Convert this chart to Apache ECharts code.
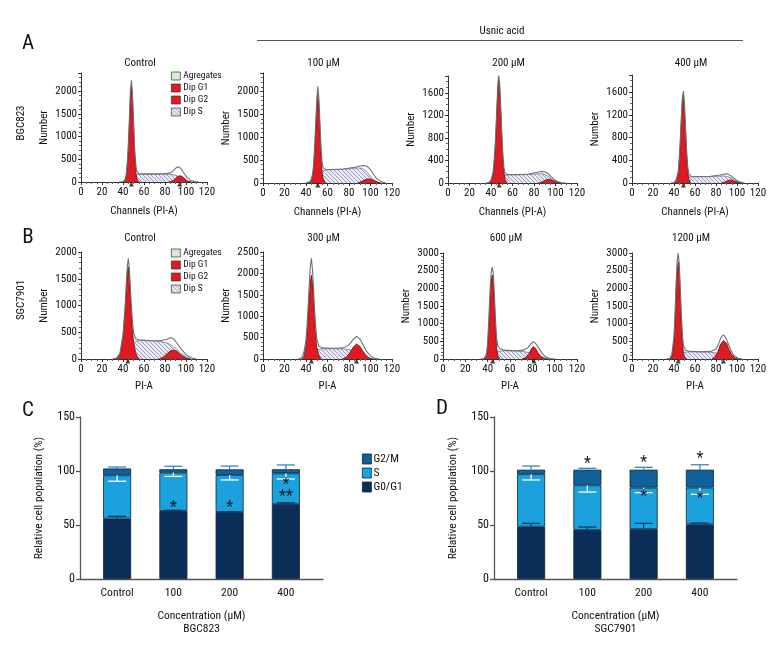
<!DOCTYPE html>
<html><head><meta charset="utf-8">
<script src="https://cdn.jsdelivr.net/npm/echarts/dist/echarts.min.js"></script>
<style>html,body{margin:0;padding:0;background:#fff}#c{width:780px;height:660px}</style>
</head><body><div id="c"></div>
<script>
// ---------- Histogram data: [channel, count] ----------
// Row A: BGC823
const a1G1 = [[40,0],[42,30],[43,120],[44,330],[45,700],[46,1250],[47,1850],[48,2150],[49,1850],[50,1250],[51,650],[52,280],[53,100],[54,30],[56,0]];
const a1S  = [[42,0],[45,40],[48,100],[51,150],[54,168],[60,170],[70,170],[80,168],[86,165],[90,150],[94,110],[98,55],[102,15],[106,0]];
const a1G2 = [[84,0],[87,20],[89,55],[91,100],[93,132],[95,135],[97,110],[99,70],[101,30],[103,8],[105,0]];
const a1Fit = [[36,0],[40,10],[42,60],[43,150],[44,400],[45,780],[46,1350],[47,1980],[48,2240],[49,1960],[50,1380],[51,780],[52,420],[53,250],[55,185],[60,178],[70,178],[80,180],[85,200],[88,250],[91,320],[93,335],[95,300],[97,230],[99,160],[101,100],[104,40],[108,8],[112,0]];
const a1Peaks = [48,94];

const a2G1 = [[42,0],[45,40],[46,120],[47,300],[48,650],[49,1150],[50,1650],[51,1930],[52,1700],[53,1150],[54,600],[55,250],[56,80],[58,0]];
const a2S  = [[44,0],[48,60],[52,180],[56,270],[60,290],[70,295],[80,310],[88,330],[92,320],[96,260],[100,150],[104,50],[108,0]];
const a2G2 = [[88,0],[91,25],[94,60],[97,85],[99,90],[101,80],[104,45],[107,15],[110,0]];
const a2Fit = [[40,0],[44,30],[46,180],[47,380],[48,750],[49,1300],[50,1800],[51,2110],[52,1850],[53,1300],[54,780],[55,450],[56,330],[58,300],[65,295],[75,305],[85,340],[90,370],[94,380],[97,360],[100,290],[103,180],[106,90],[110,30],[114,0]];
const a2Peaks = [51];

const a3G1 = [[38,0],[40,30],[42,150],[43,350],[44,650],[45,1050],[46,1500],[47,1830],[48,1700],[49,1300],[50,850],[51,450],[52,200],[53,70],[55,0]];
const a3S  = [[40,0],[44,40],[48,100],[52,135],[56,142],[65,145],[75,150],[85,165],[89,160],[93,120],[97,60],[101,20],[105,0]];
const a3G2 = [[84,0],[87,15],[90,45],[92,62],[94,66],[96,55],[99,30],[102,10],[105,0]];
const a3Fit = [[35,0],[38,10],[40,50],[42,200],[43,420],[44,720],[45,1130],[46,1600],[47,1920],[48,1790],[49,1380],[50,920],[51,520],[52,280],[53,180],[55,150],[65,150],[75,160],[83,190],[87,205],[90,200],[93,170],[96,110],[99,60],[102,25],[106,5],[110,0]];
const a3Peaks = [47.5];

const a4G1 = [[40,0],[42,30],[44,150],[45,380],[46,700],[47,1100],[48,1450],[49,1550],[50,1300],[51,900],[52,500],[53,220],[54,80],[56,0]];
const a4S  = [[42,0],[46,30],[50,80],[54,105],[58,110],[70,112],[80,118],[87,125],[91,115],[95,80],[99,35],[103,10],[106,0]];
const a4G2 = [[85,0],[88,15],[91,40],[93,52],[95,50],[98,30],[101,10],[104,0]];
const a4Fit = [[37,0],[40,10],[42,50],[44,200],[45,430],[46,760],[47,1160],[48,1510],[49,1617],[50,1370],[51,970],[52,580],[53,300],[54,170],[56,120],[65,115],[75,120],[84,140],[88,158],[91,160],[94,130],[97,85],[100,45],[103,15],[107,0]];
const a4Peaks = [49];

// Row B: SGC7901
const b1G1 = [[33,0],[36,40],[38,150],[40,400],[42,900],[43,1250],[44,1600],[45,1725],[46,1550],[47,1200],[48,850],[49,550],[50,330],[52,120],[54,30],[56,0]];
const b1S  = [[36,0],[40,50],[44,150],[48,260],[52,330],[56,345],[65,340],[75,330],[82,300],[86,260],[90,200],[95,110],[100,40],[105,0]];
const b1G2 = [[74,0],[78,30],[82,100],[85,150],[88,170],[91,150],[94,100],[97,50],[100,15],[104,0]];
const b1Fit = [[30,0],[34,20],[37,100],[40,450],[42,980],[43,1350],[44,1700],[45,1880],[46,1700],[47,1350],[48,1000],[49,700],[50,500],[52,380],[55,360],[65,345],[75,340],[82,370],[86,400],[89,360],[92,280],[96,170],[100,80],[105,25],[110,0]];
const b1Peaks = [44.5];

const b2G1 = [[36,0],[38,60],[40,300],[41,600],[42,1000],[43,1450],[44,1800],[45,1960],[46,1800],[47,1400],[48,950],[49,550],[50,280],[52,80],[54,0]];
const b2S  = [[38,0],[42,60],[46,150],[50,220],[55,240],[65,240],[75,235],[80,220],[85,180],[90,130],[95,60],[100,15],[104,0]];
const b2G2 = [[74,0],[78,50],[81,150],[84,280],[87,350],[90,300],[93,180],[96,80],[99,20],[102,0]];
const b2Fit = [[33,0],[36,30],[38,150],[40,450],[41,800],[42,1250],[43,1750],[44,2150],[45,2350],[46,2100],[47,1650],[48,1150],[49,750],[50,480],[52,300],[55,260],[65,250],[75,260],[80,330],[84,460],[87,530],[90,470],[93,340],[96,190],[100,70],[104,15],[108,0]];
const b2Peaks = [45,87];

const b3G1 = [[37,0],[39,80],[40,350],[41,900],[42,1600],[43,2150],[44,2380],[45,2200],[46,1600],[47,900],[48,350],[49,100],[51,0]];
const b3S  = [[38,0],[42,60],[46,160],[50,220],[55,235],[65,225],[72,210],[77,180],[82,140],[87,80],[92,25],[96,0]];
const b3G2 = [[71,0],[74,40],[77,150],[79,280],[81,350],[83,300],[85,180],[88,60],[91,10],[93,0]];
const b3Fit = [[34,0],[37,20],[39,150],[40,500],[41,1100],[42,1850],[43,2400],[44,2600],[45,2450],[46,1850],[47,1100],[48,600],[49,380],[51,290],[55,250],[65,235],[72,250],[76,320],[79,440],[81,490],[83,440],[86,300],[89,150],[92,60],[96,10],[100,0]];
const b3Peaks = [44.5,81.5];

const b4G1 = [[36,0],[38,80],[40,500],[41,1100],[42,1900],[43,2500],[44,2750],[45,2500],[46,1800],[47,1050],[48,500],[49,180],[50,50],[52,0]];
const b4S  = [[38,0],[42,50],[46,130],[50,190],[55,205],[65,200],[75,190],[80,170],[85,130],[90,80],[95,30],[100,0]];
const b4G2 = [[76,0],[79,60],[82,220],[84,400],[87,520],[90,450],[92,300],[95,120],[98,30],[101,0]];
const b4Fit = [[33,0],[36,20],[38,150],[40,650],[41,1300],[42,2150],[43,2750],[44,2990],[45,2700],[46,2000],[47,1250],[48,700],[49,380],[51,250],[55,215],[65,205],[75,215],[80,280],[83,470],[85,620],[87,680],[89,620],[91,480],[94,260],[97,100],[101,20],[105,0]];
const b4Peaks = [44,87];

const histTitles = ['Control','100 \u00b5M','200 \u00b5M','400 \u00b5M','Control','300 \u00b5M','600 \u00b5M','1200 \u00b5M'];
const histYMax = [2400,2400,1900,1900,2000,2500,3000,3000];
const histYInterval = [500,500,400,400,500,500,500,500];
const histXName = ['Channels (PI-A)','Channels (PI-A)','Channels (PI-A)','Channels (PI-A)','PI-A','PI-A','PI-A','PI-A'];
const histLegend = ['Agregates','Dip G1','Dip G2','Dip S'];

// ---------- Bar data (%) ----------
const cats = ['Control','100','200','400'];
const bgcG0 = [56, 63, 62, 69.4];
const bgcS  = [40, 35.4, 34.3, 28.4];
const bgcG2 = [6.3, 3.2, 5.2, 3.8];
const bgcG0Err = [2, 0.6, 0.4, 1.2];
const bgcSErr  = [5.5, 3.4, 4.6, 5.2];
const bgcG2Err = [1.4, 2.8, 3.1, 4.0];
const bgcStarPos = [[1,66],[2,66],[3,87],[3,76]];
const bgcStarTxt = ['*','*','*','**'];

const sgcG0 = [48.5, 45.4, 46.3, 50.6];
const sgcS  = [48.5, 41.3, 38.3, 34.0];
const sgcG2 = [4.2, 14.5, 16.6, 16.6];
const sgcG0Err = [3, 2.7, 5.2, 1.2];
const sgcSErr  = [5.3, 6.2, 4.6, 6.2];
const sgcG2Err = [3.4, 1.3, 2.2, 4.6];
const sgcStarPos = [[1,106.5],[2,107.4],[2,76.2],[3,110.8],[3,73.8]];
const sgcStarTxt = ['*','*','*','*','*'];
const barLegend = ['G2/M','S','G0/G1'];

// ---------- styling / layout ----------
const FONT = '"Roboto Condensed","DejaVu Sans Condensed",sans-serif';
const RED = '#df1a22';
const C_G0 = '#0b2e58', C_S = '#1ba2de', C_G2 = '#10609a';
const FS = 11;      // histogram text size
const FB = 11.5;    // bar panel text size
const histGrids = [
  {left:81, top:73, width:126, height:109},
  {left:263, top:73, width:129, height:110},
  {left:448, top:76, width:129, height:107},
  {left:632, top:75, width:126, height:108},
  {left:81, top:252, width:126, height:107},
  {left:263, top:252, width:129, height:107},
  {left:443, top:253, width:134, height:106},
  {left:632, top:253, width:126, height:106}
];

const hc = document.createElement('canvas'); hc.width = 4; hc.height = 4;
const hx = hc.getContext('2d');
hx.fillStyle = '#ebebf6'; hx.fillRect(0,0,4,4);
hx.strokeStyle = '#7878b4'; hx.lineWidth = 0.7;
hx.beginPath(); hx.moveTo(-1,-1); hx.lineTo(5,5); hx.moveTo(-1,3); hx.lineTo(1,5); hx.moveTo(3,-1); hx.lineTo(5,1); hx.stroke();
const HATCH = {image: hc, repeat: 'repeat'};

const histData = [
  [a1G1,a1G2,a1S,a1Fit,a1Peaks],[a2G1,a2G2,a2S,a2Fit,a2Peaks],[a3G1,a3G2,a3S,a3Fit,a3Peaks],[a4G1,a4G2,a4S,a4Fit,a4Peaks],
  [b1G1,b1G2,b1S,b1Fit,b1Peaks],[b2G1,b2G2,b2S,b2Fit,b2Peaks],[b3G1,b3G2,b3S,b3Fit,b3Peaks],[b4G1,b4G2,b4S,b4Fit,b4Peaks]
];
const plain = v => String(v);

const grid = [], xAxis = [], yAxis = [], series = [];
histGrids.forEach((g, i) => {
  grid.push(g);
  xAxis.push({gridIndex:i, type:'value', min:0, max:120, interval:20,
    name: histXName[i], nameLocation:'middle', nameGap:(i < 4 ? 24 : 22), nameMoveOverlap:false,
    nameTextStyle:{fontSize:FS, color:'#111', fontFamily:FONT},
    axisLine:{lineStyle:{color:'#333', width:1}},
    axisTick:{length:3, lineStyle:{color:'#333'}},
    minorTick:{show:true, splitNumber:4, length:2, lineStyle:{color:'#666'}},
    axisLabel:{fontSize:FS, color:'#111', margin:5, fontFamily:FONT, formatter:plain},
    splitLine:{show:false}, minorSplitLine:{show:false}});
  const notMult = histYMax[i] % histYInterval[i] !== 0;
  yAxis.push({gridIndex:i, type:'value', min:0, max:histYMax[i], interval:histYInterval[i],
    name:'Number', nameLocation:'middle', nameGap:31, nameMoveOverlap:false,
    nameTextStyle:{fontSize:FS, color:'#111', fontFamily:FONT},
    axisLine:{show:true, lineStyle:{color:'#333', width:1}},
    axisTick:{show:true, length:3, lineStyle:{color:'#333'}},
    minorTick:{show:true, splitNumber: histYInterval[i] === 400 ? 4 : 5, length:2, lineStyle:{color:'#666'}},
    axisLabel:{fontSize:FS, color:'#111', margin:4, showMaxLabel: !notMult, fontFamily:FONT, formatter:plain},
    splitLine:{show:false}, minorSplitLine:{show:false}});
  const [g1, g2, s, fit, pk] = histData[i];
  const base = {xAxisIndex:i, yAxisIndex:i, type:'line', symbol:'none', silent:true, animation:false};
  series.push(Object.assign({}, base, {name:'Dip S', data:s, z:2,
    lineStyle:{color:'#505070', width:0.6}, itemStyle:{color:HATCH}, areaStyle:{color:HATCH, opacity:1}}));
  series.push(Object.assign({}, base, {name:'Dip G1', data:g1, z:3,
    lineStyle:{color:'#4a0a0a', width:0.7}, itemStyle:{color:RED}, areaStyle:{color:RED, opacity:1}}));
  series.push(Object.assign({}, base, {name:'Dip G2', data:g2, z:3,
    lineStyle:{color:'#4a0a0a', width:0.7}, itemStyle:{color:RED}, areaStyle:{color:RED, opacity:1}}));
  series.push(Object.assign({}, base, {name:'Fit', data:fit, z:4,
    lineStyle:{color:'#707070', width:1.1}}));
  series.push({name:'Peak', type:'scatter', xAxisIndex:i, yAxisIndex:i, data: pk.map(p => [p, 0]),
    symbol:'triangle', symbolSize:[5,5], symbolOffset:[0,2], itemStyle:{color:'#111'}, clip:false, z:6, silent:true, animation:false});
  if (i === 0) series.push(Object.assign({}, base, {name:'Agregates', data:[], itemStyle:{color:'#d4ecd0'}}));
});

function barBlock(g0, s, g2, e0, eS, e2, starPos, starTxt, xname, leftBar, leftLine) {
  grid.push({left:leftBar, top:417, width:225, height:162});
  grid.push({left:leftLine, top:417, width:243, height:162});
  const gi = grid.length - 2, gl = grid.length - 1;
  xAxis.push({gridIndex:gi, type:'category', data:cats,
    axisLine:{show:false}, axisTick:{show:false},
    axisLabel:{fontSize:FB, color:'#111', margin:8, fontFamily:FONT},
    name:xname, nameLocation:'middle', nameGap:31, nameMoveOverlap:false,
    nameTextStyle:{fontSize:FB, color:'#111', lineHeight:12.5, fontFamily:FONT}});
  xAxis.push({gridIndex:gl, type:'value', min:0, max:1,
    axisLine:{show:true, lineStyle:{color:'#555', width:1.3}}, axisTick:{show:false},
    axisLabel:{show:false}, splitLine:{show:false}});
  yAxis.push({gridIndex:gi, type:'value', min:0, max:150, interval:50, offset:(leftBar - leftLine),
    axisLine:{show:true, lineStyle:{color:'#555', width:1.3}},
    axisTick:{show:true, length:4, lineStyle:{color:'#555', width:1.3}},
    axisLabel:{fontSize:FB + 0.5, color:'#111', margin:5, fontFamily:FONT},
    splitLine:{show:false},
    name:'Relative cell population (%)', nameLocation:'middle', nameGap:35, nameMoveOverlap:false,
    nameTextStyle:{fontSize:FB, color:'#111', fontFamily:FONT}});
  yAxis.push({gridIndex:gl, type:'value', min:0, max:150, show:false});
  const bb = {type:'bar', xAxisIndex:gi, yAxisIndex:gi, stack:'s'+gi, barWidth:28, animation:false, silent:true};
  series.push(Object.assign({}, bb, {name:'G0/G1', data:g0, itemStyle:{color:C_G0, borderColor:'#0a2340', borderWidth:0.8}}));
  series.push(Object.assign({}, bb, {name:'S', data:s, itemStyle:{color:C_S, borderColor:'#0a2340', borderWidth:0.8}}));
  series.push(Object.assign({}, bb, {name:'G2/M', data:g2, itemStyle:{color:C_G2, borderColor:'#0a2340', borderWidth:0.8}}));
  const errData = [];
  const errColor = [];
  cats.forEach((c, k) => {
    errData.push([k, g0[k], g0[k] + e0[k]]); errColor.push('#0d3a6a');
    errData.push([k, g0[k] + s[k], g0[k] + s[k] - eS[k]]); errColor.push('#ffffff');
    const t = g0[k] + s[k] + g2[k];
    errData.push([k, t, t + e2[k]]); errColor.push('#3b86c0');
  });
  series.push({type:'custom', xAxisIndex:gi, yAxisIndex:gi, data:errData, z:5, silent:true, animation:false,
    encode:{x:0, y:[1,2]},
    renderItem:(params, api) => {
      const p0 = api.coord([api.value(0), api.value(1)]);
      const p1 = api.coord([api.value(0), api.value(2)]);
      const col = errColor[params.dataIndex];
      return {type:'group', children:[
        {type:'line', shape:{x1:p0[0], y1:p0[1], x2:p1[0], y2:p1[1]}, style:{stroke:col, lineWidth:1.3}},
        {type:'line', shape:{x1:p1[0]-9, y1:p1[1], x2:p1[0]+9, y2:p1[1]}, style:{stroke:col, lineWidth:1.3}}
      ]};
    }});
  series.push({type:'custom', xAxisIndex:gi, yAxisIndex:gi, data:starPos, z:6, silent:true, animation:false,
    encode:{x:0, y:1},
    renderItem:(params, api) => {
      const p = api.coord([api.value(0), api.value(1)]);
      return {type:'text', x:p[0], y:p[1], style:{text:starTxt[params.dataIndex], align:'center', verticalAlign:'middle',
        fontSize:16, fontFamily:FONT, fill:'#1a1a2a'}};
    }});
}
barBlock(bgcG0, bgcS, bgcG2, bgcG0Err, bgcSErr, bgcG2Err, bgcStarPos, bgcStarTxt, 'Concentration (\u00b5M)\nBGC823', 89, 80);
barBlock(sgcG0, sgcS, sgcG2, sgcG0Err, sgcSErr, sgcG2Err, sgcStarPos, sgcStarTxt, 'Concentration (\u00b5M)\nSGC7901', 503, 494);

const legendHist = (top) => ({
  left:166, top:top, orient:'vertical', itemWidth:9, itemHeight:8, itemGap:2, icon:'rect', selectedMode:false,
  textStyle:{fontSize:9.5, color:'#111', fontFamily:FONT, padding:[0,0,0,-2]},
  data:[
    {name:histLegend[0], itemStyle:{color:'#d4ecd0', borderColor:'#333', borderWidth:0.7}},
    {name:histLegend[1], itemStyle:{color:RED, borderColor:'#333', borderWidth:0.7}},
    {name:histLegend[2], itemStyle:{color:RED, borderColor:'#333', borderWidth:0.7}},
    {name:histLegend[3], itemStyle:{color:HATCH, borderColor:'#333', borderWidth:0.7}}
  ]});

const titleGraphics = histGrids.map((g, i) => ({type:'text', x:g.left + g.width/2 - 4, y: (i < 4 ? 63 : 238),
  style:{text:histTitles[i], align:'center', verticalAlign:'middle', fontSize:FS, fontFamily:FONT, fill:'#111'}}));

const chart = echarts.init(document.getElementById('c'), null, {renderer:'canvas'});
chart.setOption({
  animation:false,
  backgroundColor:'#fff',
  textStyle:{fontFamily:FONT},
  grid, xAxis, yAxis, series,
  legend:[
    legendHist(66), legendHist(243),
    {left:357, top:448, orient:'vertical', itemWidth:9, itemHeight:10, itemGap:2, icon:'rect', selectedMode:false,
     textStyle:{fontSize:FB, color:'#111', fontFamily:FONT, padding:[0,0,0,-3]},
     data:[
       {name:barLegend[0], itemStyle:{color:C_G2, borderColor:'#0a2340', borderWidth:0.8}},
       {name:barLegend[1], itemStyle:{color:C_S, borderColor:'#0a2340', borderWidth:0.8}},
       {name:barLegend[2], itemStyle:{color:C_G0, borderColor:'#0a2340', borderWidth:0.8}}
     ]}
  ],
  graphic: titleGraphics.concat([
    {type:'text', x:28, y:44, style:{text:'A', fontSize:21, fontFamily:FONT, fill:'#111', align:'center', verticalAlign:'middle'}},
    {type:'text', x:28, y:238, style:{text:'B', fontSize:21, fontFamily:FONT, fill:'#111', align:'center', verticalAlign:'middle'}},
    {type:'text', x:28, y:411, style:{text:'C', fontSize:21, fontFamily:FONT, fill:'#111', align:'center', verticalAlign:'middle'}},
    {type:'text', x:442, y:409, style:{text:'D', fontSize:21, fontFamily:FONT, fill:'#111', align:'center', verticalAlign:'middle'}},
    {type:'text', x:21, y:123, rotation:Math.PI/2, style:{text:'BGC823', fontSize:FS, fontFamily:FONT, fill:'#111', align:'center', verticalAlign:'middle'}},
    {type:'text', x:21, y:300, rotation:Math.PI/2, style:{text:'SGC7901', fontSize:FS, fontFamily:FONT, fill:'#111', align:'center', verticalAlign:'middle'}},
    {type:'text', x:502, y:31, style:{text:'Usnic acid', fontSize:FS, fontFamily:FONT, fill:'#111', align:'center', verticalAlign:'middle'}},
    {type:'line', shape:{x1:257, y1:40.5, x2:743, y2:40.5}, style:{stroke:'#555', lineWidth:1}}
  ])
});
</script>
</body></html>
